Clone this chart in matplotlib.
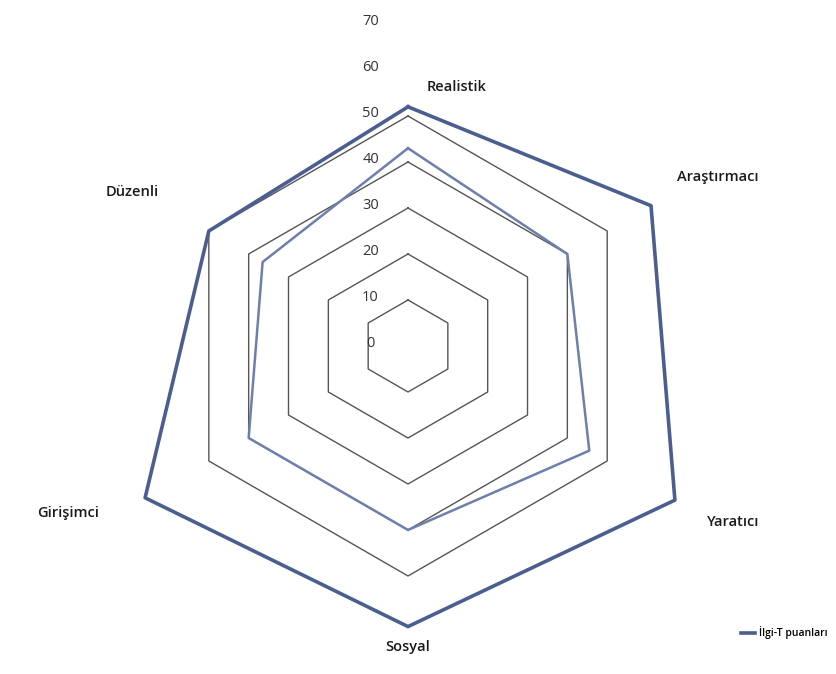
import numpy as np
import matplotlib.pyplot as plt

kategoriler = ['Realistik', 'Araştırmacı', 'Yaratıcı', 'Sosyal', 'Girişimci', 'Düzenli']
ilgi_t = [52, 61, 67, 61, 66, 50]
ikinci_seri = [43, 40, 45.5, 40, 40, 36.5]
halkalar = [10, 20, 30, 40, 50]
eksen_etiketleri = [0, 10, 20, 30, 40, 50, 60, 70]

plt.rcParams['font.family'] = ['Open Sans', 'DejaVu Sans']

fig = plt.figure(figsize=(8.36, 6.74), dpi=100)
ax = fig.add_axes([0.1029, 0.0089, 0.7703, 0.9555], projection='polar')
ax.set_theta_offset(np.pi / 2)
ax.set_theta_direction(-1)
ax.set_ylim(0, 70)
ax.grid(False)
ax.spines['polar'].set_visible(False)
ax.set_xticks([])
ax.set_yticks([])
ax.patch.set_alpha(0)

n = len(kategoriler)
aci = np.linspace(0, 2 * np.pi, n, endpoint=False)
aci_k = np.append(aci, aci[0])

for h in halkalar:
    ax.plot(aci_k, [h] * (n + 1), color='#555555', lw=1.0, zorder=1)

ax.plot(aci_k, ikinci_seri + ikinci_seri[:1], color='#6e7fae', lw=1.8, zorder=2)
ax.plot(aci_k, ilgi_t + ilgi_t[:1], color='#4a5f8f', lw=2.6, zorder=3,
        label='İlgi-T puanları')

for v in eksen_etiketleri:
    ax.annotate(str(v), xy=(0, v), xytext=(-27, 2), textcoords='offset points',
                ha='center', va='center', fontsize=10.5, color='#333333')

# kategori etiketleri
konumlar = [(457, 87), (718, 177), (733, 522), (408, 647), (68, 513), (132, 192)]
for ad, (px, py) in zip(kategoriler, konumlar):
    fig.text(px / 836, 1 - py / 674, ad, ha='center', va='center',
             fontsize=10.5, fontweight='semibold', color='#1a1a1a')

fig.legend(loc='center left', bbox_to_anchor=(732 / 836, 1 - 633 / 674), frameon=False,
           handlelength=1.3, handletextpad=0.4,
           prop={'weight': 'semibold', 'size': 7.5})

fig.savefig('out.png', dpi=100)
